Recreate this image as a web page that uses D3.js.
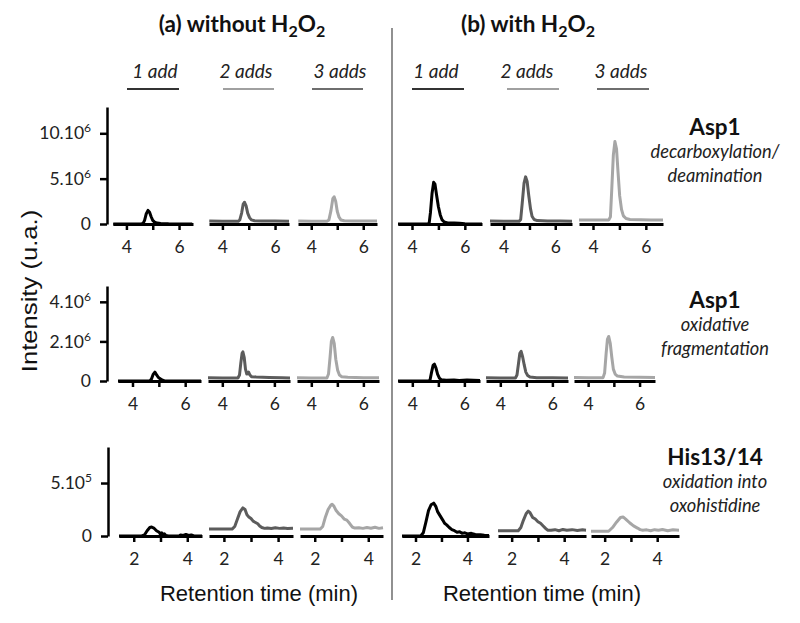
<!DOCTYPE html>
<html><head><meta charset="utf-8">
<script src="https://cdn.jsdelivr.net/npm/d3@7"></script>
<style>
body{margin:0;background:#fff;}
svg{display:block;}
</style></head>
<body>
<svg id="chart" width="800" height="623"></svg>
<script>
// ---------------- DATA ----------------
const groupTitles = [["(a) without H","2","O","2"],["(b) with H","2","O","2"]];
const addLabels = ["1 add","2 adds","3 adds"];
const rowNames = ["Asp1","Asp1","His13/14"];
const rowSubtitles = [["decarboxylation/","deamination"],["oxidative","fragmentation"],["oxidation into","oxohistidine"]];
const rowUnit = [1e6, 1e6, 1e5];
const yMax = [12.9e6, 4.8e6, 8.4e5];
const yTicks = [[0,5e6,10e6],[0,2e6,4e6],[0,5e5]];
const yTickMant = [["0","5.10","10.10"],["0","2.10","4.10"],["0","5.10"]];
const yTickExp  = [["","6","6"],["","6","6"],["","5"]];
const xTicks = [[4,5,6],[4,5,6],[2,3,4]];
const xTickLabeled = [[4,6],[4,6],[2,4]];
const xLabel = "Retention time (min)";
const yLabel = "Intensity (u.a.)";

// Row 1: Asp1 decarboxylation/deamination (intensity x1e6)
const decarbA1 = [[3.5,0],[4.55,0],[4.63,0.05],[4.69,0.4],[4.75,1.1],[4.82,1.5],[4.88,1.3],[4.94,0.8],[5.0,0.4],[5.07,0.2],[5.17,0.1],[5.3,0.05],[5.6,0.02],[6.5,0]];
const decarbA2 = [[3.5,0.32],[4.0,0.3],[4.6,0.3],[4.66,0.45],[4.73,1.2],[4.79,2.2],[4.84,2.4],[4.9,2.0],[4.96,1.2],[5.03,0.7],[5.1,0.45],[5.22,0.36],[5.5,0.33],[6.0,0.32],[6.53,0.3]];
const decarbA3 = [[3.5,0.32],[4.0,0.3],[4.6,0.3],[4.68,0.45],[4.76,1.5],[4.83,2.8],[4.88,3.0],[4.94,2.5],[5.0,1.4],[5.07,0.75],[5.14,0.45],[5.27,0.36],[5.6,0.33],[6.53,0.32]];
const decarbB1 = [[3.47,0],[4.6,0],[4.65,0.1],[4.7,1.3],[4.76,3.4],[4.82,4.6],[4.87,4.4],[4.93,3.2],[5.0,1.9],[5.07,1.0],[5.14,0.45],[5.22,0.22],[5.35,0.12],[5.6,0.1],[5.8,0.08],[6.0,0.03],[6.65,0]];
const decarbB2 = [[3.47,0.32],[4.0,0.3],[4.6,0.3],[4.66,0.5],[4.72,2.3],[4.79,4.5],[4.85,5.2],[4.91,4.7],[4.97,3.2],[5.04,1.7],[5.1,0.85],[5.18,0.5],[5.3,0.38],[5.7,0.33],[6.2,0.32],[6.65,0.3]];
const decarbB3 = [[3.47,0.45],[4.0,0.45],[4.6,0.45],[4.66,0.8],[4.71,3.8],[4.77,7.6],[4.83,9.1],[4.89,8.3],[4.95,5.6],[5.01,3.1],[5.08,1.6],[5.15,0.9],[5.25,0.6],[5.4,0.5],[5.8,0.48],[6.2,0.45],[6.65,0.45]];

// Row 2: Asp1 oxidative fragmentation (intensity x1e6)
const fragA1 = [[3.45,0],[4.66,0],[4.72,0.1],[4.79,0.35],[4.85,0.45],[4.91,0.32],[4.97,0.2],[5.04,0.12],[5.12,0.05],[5.22,0],[6.6,0]];
const fragA2 = [[3.45,0.16],[4.0,0.15],[4.6,0.15],[4.66,0.3],[4.71,0.9],[4.76,1.4],[4.79,1.47],[4.84,1.2],[4.89,0.6],[4.94,0.35],[4.98,0.4],[5.01,0.45],[5.06,0.3],[5.12,0.22],[5.3,0.2],[5.8,0.18],[6.3,0.16],[6.6,0.15]];
const fragA3 = [[3.45,0.16],[4.0,0.15],[4.6,0.15],[4.66,0.35],[4.72,1.2],[4.77,2.0],[4.82,2.2],[4.88,1.9],[4.94,1.1],[5.01,0.55],[5.08,0.3],[5.17,0.22],[5.4,0.19],[6.0,0.17],[6.6,0.16]];
const fragB1 = [[3.45,0],[4.63,0],[4.68,0.05],[4.74,0.45],[4.8,0.8],[4.85,0.85],[4.91,0.65],[4.97,0.35],[5.04,0.15],[5.12,0.06],[5.3,0.04],[5.6,0.05],[5.8,0.03],[6.1,0.05],[6.6,0.03]];
const fragB2 = [[3.45,0.16],[4.0,0.15],[4.58,0.15],[4.64,0.3],[4.7,0.9],[4.75,1.4],[4.8,1.5],[4.86,1.2],[4.92,0.8],[4.98,0.45],[5.05,0.28],[5.14,0.2],[5.4,0.17],[6.0,0.16],[6.6,0.15]];
const fragB3 = [[3.45,0.18],[4.0,0.17],[4.58,0.17],[4.64,0.4],[4.7,1.4],[4.75,2.1],[4.8,2.25],[4.86,1.9],[4.92,1.2],[4.98,0.6],[5.05,0.35],[5.14,0.25],[5.4,0.2],[6.0,0.19],[6.6,0.18]];

// Row 3: His13/14 oxidation into oxohistidine (intensity x1e5)
const oxoA1 = [[1.45,0],[2.3,0],[2.4,0.1],[2.5,0.5],[2.6,0.8],[2.67,0.85],[2.75,0.75],[2.85,0.5],[2.95,0.35],[3.0,0.15],[3.05,0.3],[3.1,0.1],[3.15,0.2],[3.2,0.05],[3.3,0],[3.7,0],[3.75,0.1],[3.85,0.05],[3.95,0.15],[4.05,0.05],[4.15,0.1],[4.25,0],[4.55,0]];
const oxoA2 = [[1.45,0.65],[2.3,0.65],[2.4,0.9],[2.5,1.6],[2.6,2.3],[2.7,2.65],[2.78,2.5],[2.85,2.0],[2.92,1.8],[3.0,1.65],[3.08,1.4],[3.15,1.3],[3.25,1.15],[3.32,0.95],[3.4,0.8],[3.5,0.72],[3.6,0.75],[3.75,0.7],[3.9,0.78],[4.05,0.72],[4.2,0.75],[4.35,0.7],[4.55,0.72]];
const oxoA3 = [[1.45,0.65],[2.2,0.65],[2.3,0.9],[2.4,1.8],[2.5,2.5],[2.6,2.9],[2.65,3.0],[2.72,2.8],[2.8,2.4],[2.9,2.1],[3.0,1.9],[3.1,1.6],[3.2,1.5],[3.3,1.2],[3.4,0.85],[3.5,0.75],[3.65,0.78],[3.8,0.72],[3.95,0.8],[4.1,0.74],[4.25,0.82],[4.4,0.72],[4.55,0.78]];
const oxoB1 = [[1.48,0],[2.2,0],[2.3,0.3],[2.4,1.3],[2.5,2.4],[2.6,2.95],[2.7,3.1],[2.78,2.8],[2.85,2.3],[2.95,1.9],[3.05,1.5],[3.12,1.2],[3.2,1.05],[3.3,0.8],[3.4,0.6],[3.5,0.5],[3.6,0.35],[3.7,0.4],[3.8,0.25],[3.9,0.3],[4.0,0.2],[4.15,0.25],[4.3,0.15],[4.5,0.12],[4.65,0.08],[4.83,0.05]];
const oxoB2 = [[1.48,0.5],[2.25,0.5],[2.35,0.8],[2.45,1.5],[2.55,2.1],[2.63,2.35],[2.7,2.2],[2.8,1.75],[2.9,1.6],[3.0,1.35],[3.1,1.2],[3.2,0.95],[3.3,0.7],[3.37,0.55],[3.5,0.55],[3.65,0.6],[3.8,0.5],[3.95,0.62],[4.1,0.55],[4.3,0.6],[4.5,0.52],[4.7,0.58],[4.83,0.55]];
const oxoB3 = [[1.48,0.45],[2.15,0.45],[2.3,0.8],[2.45,1.3],[2.6,1.75],[2.7,1.8],[2.8,1.6],[2.95,1.25],[3.1,0.95],[3.25,0.75],[3.35,0.6],[3.45,0.55],[3.6,0.58],[3.75,0.5],[3.9,0.6],[4.05,0.55],[4.2,0.62],[4.4,0.5],[4.6,0.58],[4.83,0.55]];

const rowTraces = [
  [decarbA1, decarbA2, decarbA3, decarbB1, decarbB2, decarbB3],
  [fragA1, fragA2, fragA3, fragB1, fragB2, fragB3],
  [oxoA1, oxoA2, oxoA3, oxoB1, oxoB2, oxoB3]
];

// ---------------- LAYOUT ----------------
const PANEL_X = [
  [[113,193],[209,289],[298,377],[398,482],[490,572],[579,663]],
  [[118,201],[208,290],[297,379],[398,480],[486,568],[574,655]],
  [[119,202],[209,293],[300,383],[402,489],[498,586],[591,679]]
];
const X_DOMAIN = [
  [[3.49,6.53],[3.47,6.65]],
  [[3.45,6.6],[3.45,6.6]],
  [[1.45,4.55],[1.48,4.83]]
];
const ROW_Y = [[224,107],[381,286],[536,447]];
const Y_AXIS_X = [107,107,108];
const traceColors = ["#000000","#5c5c5c","#a6a6a6"];
const legendColors = ["#333333","#a0a0a0","#6e6e6e"];
const GROUP_CX = [242, 528];
const ADD_CX = [[155,246,340],[436,527,621]];
const ADD_LINE = [[[127,179],[223,274],[312,363]],[[412,464],[507,559],[597,649]]];
const ROW_LABEL_Y = [135, 308, 465];
const ROW_LABEL_X = 715;

const LAT = "Lato, 'Open Sans', sans-serif";
const ARIAL = "'Liberation Sans', Arial, sans-serif";

const svg = d3.select("#chart");

// divider
svg.append("line").attr("x1",392).attr("x2",392).attr("y1",28).attr("y2",600)
  .attr("stroke","#555").attr("stroke-width",1.3);

// group titles
groupTitles.forEach((parts,g)=>{
  const t = svg.append("text").attr("x",GROUP_CX[g]).attr("y",32)
    .attr("text-anchor","middle").attr("font-family",LAT).attr("font-weight","bold")
    .attr("font-size",22.5).attr("fill","#111");
  t.append("tspan").text(parts[0]);
  t.append("tspan").attr("dy",5).attr("font-size",16).text(parts[1]);
  t.append("tspan").attr("dy",-5).text(parts[2]);
  t.append("tspan").attr("dy",5).attr("font-size",16).text(parts[3]);
  addLabels.forEach((lab,a)=>{
    svg.append("text").attr("x",ADD_CX[g][a]).attr("y",78).attr("text-anchor","middle")
      .attr("font-family",LAT).attr("font-style","italic").attr("font-size",19).attr("fill","#222").text(lab);
    svg.append("line").attr("x1",ADD_LINE[g][a][0]).attr("x2",ADD_LINE[g][a][1])
      .attr("y1",89).attr("y2",89).attr("stroke",legendColors[a]).attr("stroke-width",2);
  });
});

// rows
rowTraces.forEach((traces,r)=>{
  const [base, top] = ROW_Y[r];
  const y = d3.scaleLinear().domain([0,yMax[r]]).range([base, top]);
  const yAx = svg.append("g").attr("transform",`translate(${Y_AXIS_X[r]},0)`)
    .call(d3.axisLeft(y).tickValues(yTicks[r]).tickSize(7).tickSizeOuter(0).tickPadding(9)
      .tickFormat((d,i)=>yTickMant[r][i]));
  yAx.select(".domain").attr("stroke","#000").attr("stroke-width",2.5);
  yAx.selectAll(".tick line").attr("stroke","#000").attr("stroke-width",2.5);
  yAx.selectAll(".tick text").attr("font-family",LAT).attr("font-size",17.5).attr("fill","#222")
    .each(function(d,i){
      if (yTickExp[r][i]) {
        d3.select(this).append("tspan").attr("dy",-7).attr("font-size",12).text(yTickExp[r][i]);
      }
    });

  traces.forEach((tr,p)=>{
    const g = p < 3 ? 0 : 1;
    const a = p % 3;
    const x = d3.scaleLinear().domain(X_DOMAIN[r][g]).range(PANEL_X[r][p]);
    const line = d3.line().x(d=>x(d[0])).y(d=>y(d[1]*rowUnit[r]));
    const xAx = svg.append("g").attr("transform",`translate(0,${base})`)
      .call(d3.axisBottom(x).tickValues(xTicks[r]).tickSize(6).tickSizeOuter(0).tickPadding(11)
        .tickFormat(d=> xTickLabeled[r].includes(d) ? d : ""));
    xAx.select(".domain").attr("stroke","#000").attr("stroke-width",2.8);
    xAx.selectAll(".tick line").attr("stroke","#000").attr("stroke-width",2.5);
    xAx.selectAll(".tick text").attr("font-family",LAT).attr("font-size",17.5).attr("fill","#222");
    svg.append("path").datum(tr).attr("d",line).attr("fill","none")
      .attr("stroke",traceColors[a]).attr("stroke-width",3).attr("stroke-linejoin","round");
  });

  svg.append("text").attr("x",ROW_LABEL_X).attr("y",ROW_LABEL_Y[r]).attr("text-anchor","middle")
    .attr("font-family",LAT).attr("font-weight","bold").attr("font-size",22.5).attr("fill","#111").text(rowNames[r]);
  rowSubtitles[r].forEach((s,k)=>{
    svg.append("text").attr("x",ROW_LABEL_X).attr("y",ROW_LABEL_Y[r]+23+k*24).attr("text-anchor","middle")
      .attr("font-family",LAT).attr("font-style","italic").attr("font-size",18.3).attr("fill","#222").text(s);
  });
});

// axis titles
svg.append("text").attr("transform","translate(37,291) rotate(-90) scale(1.14,1)").attr("text-anchor","middle")
  .attr("font-family",ARIAL).attr("font-size",22.5).attr("fill","#111").text(yLabel);
[259,542].forEach(cx=>{
  svg.append("text").attr("x",cx).attr("y",601).attr("text-anchor","middle")
    .attr("font-family",ARIAL).attr("font-size",22).attr("fill","#111").text(xLabel);
});
</script>
</body></html>
